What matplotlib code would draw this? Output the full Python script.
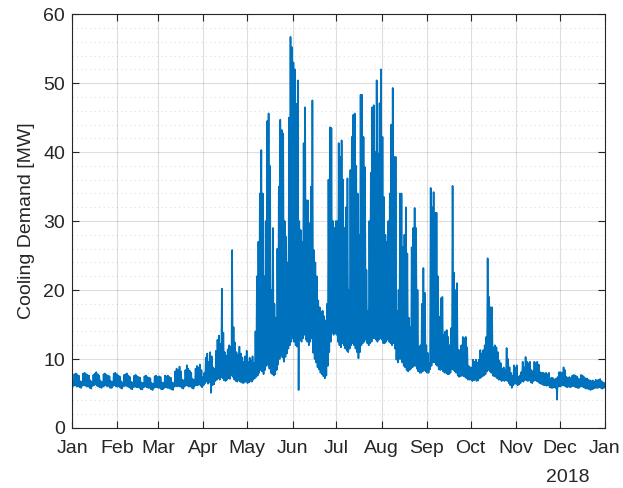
import numpy as np
import pandas as pd
import matplotlib
matplotlib.use("Agg")
import matplotlib.pyplot as plt
import matplotlib.dates as mdates

# Daily low / high of the hourly cooling demand [MW]
jan_lo = [5.9, 6.1, 6.2, 6.0, 6.1, 5.9, 5.8, 6.1, 6.2, 6.1, 6.0, 6.0, 5.8, 5.7, 6.1, 6.2,
          6.3, 6.1, 6.0, 5.9, 5.8, 6.0, 6.1, 6.2, 6.0, 6.1, 5.8, 5.8, 6.1, 6.2, 6.0]
jan_hi = [6.9, 7.8, 7.9, 7.7, 7.6, 6.8, 6.7, 7.9, 8.0, 7.8, 7.7, 7.6, 6.9, 6.7, 7.7, 7.9,
          8.1, 7.8, 7.6, 6.8, 6.6, 7.8, 7.9, 7.7, 7.6, 7.5, 6.8, 6.7, 7.9, 8.0, 7.8]
feb_lo = [6.0, 6.0, 5.8, 5.7, 6.0, 6.1, 6.1, 6.0, 5.9, 5.7, 5.6, 5.9, 6.0, 5.9, 5.9, 5.8,
          5.6, 5.6, 5.9, 6.0, 5.9, 5.8, 5.8, 5.6, 5.5, 5.8, 5.9, 5.9]
feb_hi = [7.6, 7.5, 6.8, 6.6, 7.7, 7.8, 7.9, 7.6, 7.4, 6.7, 6.6, 7.6, 7.7, 7.5, 7.4, 7.3,
          6.6, 6.5, 7.5, 7.6, 7.4, 7.3, 7.2, 6.5, 6.4, 7.5, 7.6, 7.4]
mar_lo = [5.8, 5.8, 5.6, 5.6, 5.8, 5.9, 5.8, 5.8, 5.7, 5.6, 5.5, 6.0, 6.1, 6.0, 6.1, 6.0,
          5.8, 5.7, 6.0, 6.2, 6.1, 6.0, 6.0, 5.8, 5.7, 6.1, 6.2, 6.2, 6.3, 6.1, 5.9]
mar_hi = [7.5, 7.4, 6.6, 6.5, 7.6, 7.5, 7.6, 7.4, 7.3, 6.6, 6.5, 8.2, 8.6, 8.4, 8.9, 8.2,
          7.0, 6.9, 8.4, 9.1, 8.6, 8.3, 8.0, 7.1, 7.0, 8.6, 9.0, 8.8, 9.2, 8.4, 7.4]
apr_lo = [6.2, 6.5, 6.7, 6.4, 6.6, 5.1, 6.2, 6.3, 6.8, 7.0, 7.2, 7.0, 7.4, 7.2, 6.9,
          6.8, 7.0, 7.2, 7.1, 7.6, 7.4, 7.0, 6.8, 6.7, 6.9, 6.7, 6.6, 6.5, 6.6, 6.8]
apr_hi = [8.0, 10.2, 10.8, 9.6, 11.0, 10.4, 8.8, 8.6, 11.2, 12.8, 13.4, 12.2, 20.2, 13.8, 11.0,
          10.5, 11.4, 12.0, 11.8, 25.8, 14.6, 12.4, 11.0, 10.6, 11.8, 10.8, 10.2, 9.6, 10.4, 11.2]
may_lo = [6.5, 6.6, 6.8, 6.7, 7.0, 7.2, 7.4, 7.6, 8.0, 8.4, 8.2, 7.8, 8.4, 9.0, 9.2, 8.6,
          8.0, 7.8, 7.6, 7.8, 8.4, 9.2, 10.0, 10.5, 10.2, 9.6, 10.3, 10.8, 11.5, 12.0, 12.5]
may_hi = [9.6, 10.2, 9.8, 10.4, 9.4, 14.0, 22.0, 27.0, 34.0, 40.3, 34.0, 22.0, 30.0, 44.5, 45.6, 38.0,
          20.0, 29.0, 18.0, 16.0, 26.0, 35.0, 44.7, 43.2, 42.7, 30.0, 27.7, 24.0, 45.0, 56.7, 55.2]
jun_lo = [13.0, 12.5, 12.0, 11.8, 5.5, 12.8, 12.5, 13.0, 13.5, 12.8, 12.5, 12.0, 12.5, 13.0, 10.9,
          10.0, 9.5, 8.8, 8.5, 8.0, 7.8, 7.5, 7.2, 7.6, 9.0, 11.0, 12.5, 13.8, 13.5, 13.8]
jun_hi = [53.0, 52.0, 47.0, 50.4, 30.0, 28.7, 27.0, 41.3, 46.5, 33.0, 33.0, 29.7, 35.0, 47.5, 25.8,
          24.0, 22.0, 18.5, 17.5, 16.8, 17.0, 16.2, 15.6, 18.0, 36.0, 43.6, 43.5, 30.0, 29.0, 30.0]
jul_lo = [13.5, 12.5, 12.0, 11.7, 12.3, 12.0, 11.5, 11.2, 11.0, 11.5, 12.0, 12.3, 12.0, 11.5, 11.0, 10.1,
          11.0, 12.0, 12.3, 12.5, 12.8, 12.3, 12.0, 12.3, 12.5, 13.0, 13.0, 12.8, 12.5, 12.8, 13.0]
jul_hi = [30.0, 41.3, 39.3, 41.7, 36.0, 29.0, 32.0, 36.2, 20.0, 37.4, 42.2, 45.4, 45.6, 38.0, 34.0, 28.0,
          48.3, 48.3, 42.2, 37.8, 22.9, 17.0, 30.0, 37.0, 46.5, 46.8, 40.0, 50.4, 39.8, 47.1, 52.0]
aug_lo = [12.8, 12.3, 12.3, 12.5, 12.8, 12.5, 12.3, 12.0, 12.3, 11.5, 9.9, 9.5, 10.0, 10.0, 9.5, 9.0,
          8.8, 8.4, 8.2, 8.4, 8.6, 8.8, 9.0, 9.0, 8.6, 8.2, 8.0, 8.0, 8.2, 8.4, 8.2]
aug_hi = [42.2, 33.5, 28.0, 27.0, 30.0, 34.0, 44.0, 49.3, 39.3, 39.3, 17.0, 20.0, 34.0, 34.0, 26.2, 28.0,
          32.0, 25.3, 16.0, 14.6, 26.2, 29.0, 31.9, 29.0, 20.0, 11.7, 12.0, 18.0, 23.2, 19.6, 12.0]
sep_lo = [8.0, 8.0, 8.5, 9.0, 9.5, 9.5, 9.2, 9.0, 8.5, 8.4, 8.5, 8.2, 8.0, 8.0, 7.8,
          7.8, 8.0, 8.5, 8.4, 8.2, 8.0, 7.6, 7.4, 7.5, 7.6, 7.5, 7.4, 7.2, 7.0, 7.0]
sep_hi = [10.9, 9.4, 34.8, 32.0, 34.2, 31.2, 31.2, 22.0, 16.1, 18.8, 19.0, 13.5, 14.0, 14.2, 13.2,
          12.0, 14.5, 35.1, 22.5, 20.0, 21.0, 11.3, 11.3, 12.0, 13.2, 13.0, 13.2, 11.7, 9.0, 8.8]
oct_lo = [7.0, 6.8, 6.9, 7.0, 6.8, 6.9, 7.2, 7.3, 7.5, 7.6, 7.8, 8.2, 8.4, 8.2, 8.0, 7.6,
          7.5, 7.4, 7.2, 7.0, 7.0, 6.8, 6.9, 6.8, 7.0, 6.8, 6.5, 6.2, 5.8, 6.2, 6.4]
oct_hi = [8.8, 9.9, 9.6, 9.9, 9.5, 9.9, 11.3, 10.8, 11.3, 12.0, 13.2, 24.6, 19.0, 17.5, 17.5, 11.7,
          12.0, 11.7, 11.0, 9.8, 9.4, 8.6, 8.8, 8.4, 11.6, 10.0, 8.8, 8.0, 7.6, 9.1, 8.8]
nov_lo = [6.4, 6.2, 6.3, 6.5, 6.8, 6.7, 7.0, 6.9, 6.8, 6.9, 6.6, 6.5, 6.8, 6.9, 6.8,
          6.7, 6.5, 6.4, 6.3, 6.2, 6.2, 6.1, 6.2, 5.9, 5.8, 5.8, 5.9, 5.8, 4.1, 6.0]
nov_hi = [9.1, 7.4, 7.6, 8.1, 9.6, 8.8, 10.3, 9.6, 9.4, 9.6, 8.4, 8.2, 9.6, 9.4, 9.6,
          9.2, 8.1, 8.0, 8.0, 7.9, 8.0, 7.8, 8.0, 7.2, 7.3, 7.2, 7.0, 7.2, 7.4, 8.1]
dec_lo = [6.0, 6.1, 6.2, 6.1, 6.0, 5.9, 6.0, 5.9, 6.0, 6.1, 6.0, 5.9, 5.8, 5.8, 6.0, 6.0,
          5.9, 5.8, 5.7, 5.7, 5.6, 5.5, 5.6, 5.7, 5.8, 5.8, 5.8, 5.9, 5.8, 5.7, 5.8]
dec_hi = [8.1, 8.0, 8.8, 8.4, 7.4, 7.3, 7.4, 7.2, 7.6, 7.7, 7.6, 7.5, 7.2, 7.1, 7.7, 7.6,
          7.4, 7.2, 7.2, 7.0, 6.9, 6.8, 6.9, 6.7, 7.0, 6.9, 7.0, 7.1, 6.8, 6.6, 6.5]

lo = np.concatenate([jan_lo, feb_lo, mar_lo, apr_lo, may_lo, jun_lo,
                     jul_lo, aug_lo, sep_lo, oct_lo, nov_lo, dec_lo])
hi = np.concatenate([jan_hi, feb_hi, mar_hi, apr_hi, may_hi, jun_hi,
                     jul_hi, aug_hi, sep_hi, oct_hi, nov_hi, dec_hi])

# night low around 04:00, afternoon high around 15:00 for each day
days = pd.date_range("2018-01-01", periods=len(lo), freq="D")
t = np.empty(2 * len(lo), dtype="datetime64[ns]")
t[0::2] = days + pd.Timedelta(hours=4)
t[1::2] = days + pd.Timedelta(hours=15)
y = np.empty(2 * len(lo))
y[0::2] = lo
y[1::2] = hi

plt.rcParams["font.family"] = ["Liberation Sans", "DejaVu Sans"]
axcol = "#262626"

fig = plt.figure(figsize=(6.23, 4.88), dpi=100)
ax = fig.add_axes([0.1156, 0.123, 0.8555, 0.848])

ax.plot(t, y, color="#0072BD", linewidth=1.2)

ax.set_xlim(pd.Timestamp("2018-01-01"), pd.Timestamp("2019-01-01"))
ax.set_ylim(0, 60)
ax.xaxis.set_major_locator(mdates.MonthLocator())
ax.xaxis.set_major_formatter(mdates.DateFormatter("%b"))
ax.set_yticks(np.arange(0, 61, 10))
ax.set_yticks(np.arange(0, 61, 2), minor=True)

ax.grid(which="major", color="#262626", alpha=0.15, linewidth=0.8)
ax.grid(which="minor", axis="y", color="#262626", alpha=0.15, linewidth=0.8, linestyle=(0, (1, 3)))
ax.set_axisbelow(True)

ax.tick_params(which="both", direction="in", top=True, right=True, colors=axcol,
               labelsize=14, width=0.8)
ax.tick_params(which="major", length=5)
ax.tick_params(which="minor", length=0)
ax.tick_params(axis="x", pad=9)
ax.tick_params(axis="y", pad=5)
for s in ax.spines.values():
    s.set_color(axcol)
    s.set_linewidth(0.8)

ax.set_ylabel("Cooling Demand [MW]", fontsize=14, color=axcol, labelpad=6)
ax.annotate("2018", xy=(1, 0), xycoords="axes fraction", xytext=(-11, -36),
            textcoords="offset points", ha="right", va="center", fontsize=14, color=axcol)

fig.savefig("out.png", dpi=100)
plt.close(fig)
